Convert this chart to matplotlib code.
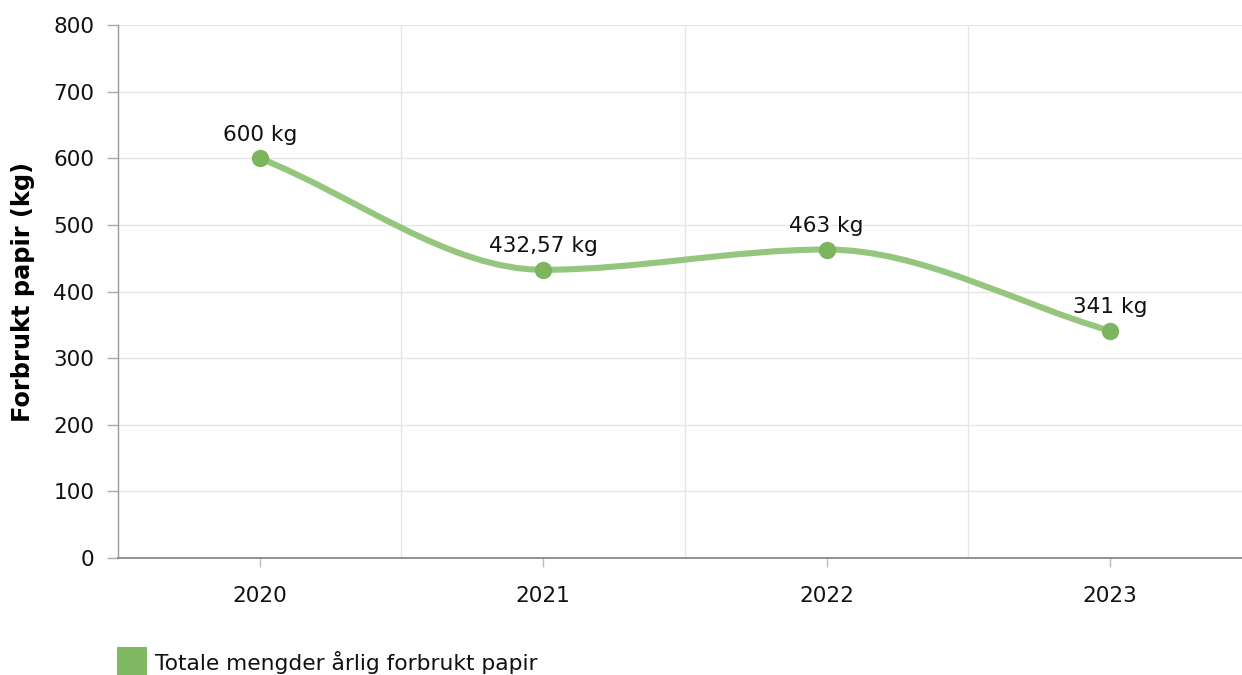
import numpy as np
import matplotlib
matplotlib.use("Agg")
import matplotlib.pyplot as plt
from matplotlib.path import Path
from matplotlib.patches import PathPatch, Rectangle

categories = ["2020", "2021", "2022", "2023"]
values = [600, 432.57, 463, 341]
labels = ["600 kg", "432,57 kg", "463 kg", "341 kg"]
series_name = "Totale mengder årlig forbrukt papir"
y_label = "Forbrukt papir (kg)"
y_ticks = [0, 100, 200, 300, 400, 500, 600, 700, 800]

plt.rcParams['font.family'] = ['DejaVu Sans']

W, H = 1242, 675
fig = plt.figure(figsize=(W / 100, H / 100), dpi=100)
left, right, top, bottom = 118, 1242, 25, 558
ax = fig.add_axes([left / W, 1 - bottom / H, (right - left) / W, (bottom - top) / H])

cat_px = 283.67
ax.set_xlim(-0.5, 3.5 - 10 / cat_px)
ax.set_ylim(0, 800)

x = np.arange(len(categories), dtype=float)
y = np.array(values, dtype=float)

# Monotone cubic interpolation (Chart.js 'monotone' style)
def monotone_path(xs, ys):
    xs = np.asarray(xs, float)
    ys = np.asarray(ys, float)
    n = len(xs)
    dx = np.diff(xs)
    d = np.diff(ys) / dx
    m = np.zeros(n)
    m[0] = d[0]
    m[-1] = d[-1]
    for i in range(1, n - 1):
        if d[i - 1] == 0 or d[i] == 0 or np.sign(d[i - 1]) != np.sign(d[i]):
            m[i] = 0
        else:
            m[i] = (d[i - 1] + d[i]) / 2
    for i in range(n - 1):
        if d[i] == 0:
            m[i] = m[i + 1] = 0
            continue
        a = m[i] / d[i]
        b = m[i + 1] / d[i]
        s = a * a + b * b
        if s > 9:
            tau = 3 / np.sqrt(s)
            m[i] = tau * a * d[i]
            m[i + 1] = tau * b * d[i]
    verts = [(xs[0], ys[0])]
    codes = [Path.MOVETO]
    for i in range(n - 1):
        h = dx[i] / 3
        verts += [(xs[i] + h, ys[i] + m[i] * h),
                  (xs[i + 1] - h, ys[i + 1] - m[i + 1] * h),
                  (xs[i + 1], ys[i + 1])]
        codes += [Path.CURVE4] * 3
    return Path(verts, codes)

path = monotone_path(x, y)
ax.add_patch(PathPatch(path, facecolor='none', edgecolor='#95c67e', lw=4.4,
                       capstyle='round', joinstyle='round', zorder=3))
ax.plot(x, y, 'o', color='#7db55f', markersize=12.5, zorder=4, markeredgewidth=0)

for xi, yi, lab in zip(x, y, labels):
    ax.annotate(lab, (xi, yi), xytext=(0, 12.5), textcoords='offset points',
                ha='center', va='baseline', fontsize=15.6, color='#111111', zorder=5)

ax.set_yticks(y_ticks)
ax.set_yticklabels([str(t) for t in y_ticks], fontsize=15.6, color='#111111')
ax.set_xticks(x)
ax.set_xticklabels(categories, fontsize=15.6, color='#111111')
ax.set_xticks([0.5, 1.5, 2.5], minor=True)

ax.grid(True, axis='y', which='major', color='#e6e6e6', lw=1)
ax.grid(True, axis='x', which='minor', color='#e6e6e6', lw=1)
ax.set_axisbelow(True)

for s in ['top', 'right']:
    ax.spines[s].set_visible(False)
ax.spines['left'].set_color('#999999')
ax.spines['bottom'].set_color('#888888')
ax.spines['left'].set_linewidth(1)
ax.spines['bottom'].set_linewidth(1.3)

ax.tick_params(axis='y', which='major', length=8, width=1, color='#aaaaaa', pad=9)
ax.tick_params(axis='x', which='major', length=6.5, width=1, color='#bbbbbb', pad=14)
ax.tick_params(axis='x', which='minor', length=0)

ax.set_ylabel(y_label, fontsize=17.3, fontweight='bold')
ax.yaxis.set_label_coords(-83 / (right - left), 0.5)

# legend
fig.patches.append(Rectangle((117 / W, 1 - 676 / H), 30 / W, 29 / H,
                             transform=fig.transFigure, facecolor='#80b862',
                             edgecolor='none'))
fig.text(155 / W, 1 - 662 / H, series_name, fontsize=15.7, color='#111111',
         va='center', ha='left')

fig.savefig("out.png", dpi=100)
